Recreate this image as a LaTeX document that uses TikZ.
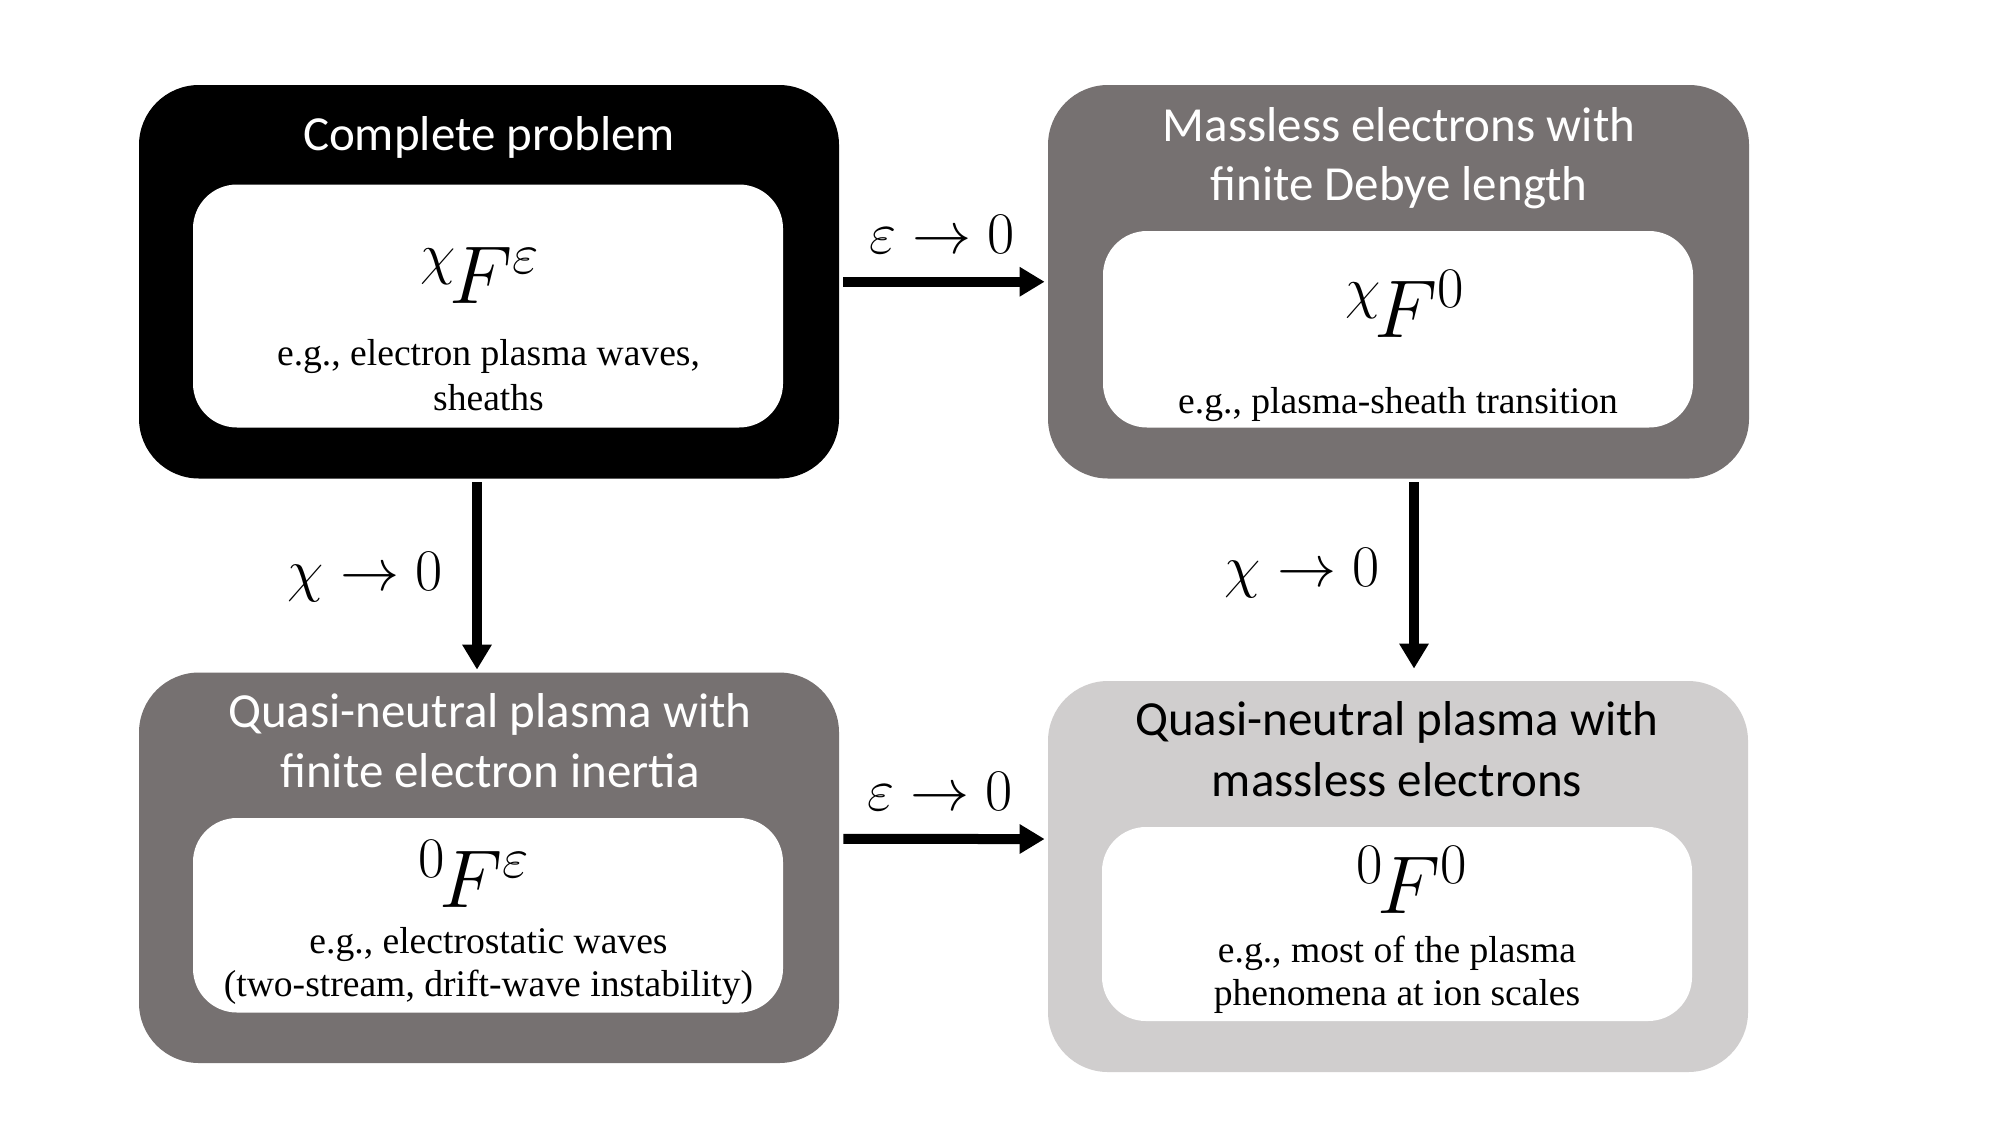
\RequirePackage{fix-cm}
\documentclass[tikz,border=0pt]{standalone}
\usepackage[no-math]{fontspec}
\newfontfamily\titlefont{Carlito}
\newfontfamily\serifbody{Liberation Serif}
\usetikzlibrary{arrows.meta}
\definecolor{darkbox}{HTML}{767171}
\definecolor{lightbox}{HTML}{D0CECE}
\begin{document}
\begin{tikzpicture}[x=0.5pt,y=-0.5pt,
  outerbox/.style={rounded corners=30pt, minimum width=350pt, inner sep=0pt, draw=none},
  innerbox/.style={rounded corners=22pt, fill=white, minimum width=295pt, inner sep=0pt, draw=none},
  title/.style={font=\titlefont\fontsize{24.5}{29}\selectfont, anchor=base, inner sep=0pt},
  desc/.style={font=\serifbody\fontsize{18.8}{22}\selectfont, anchor=base, inner sep=0pt},
  formula/.style={font=\fontsize{41}{48}\selectfont, anchor=base, inner sep=0pt},
  limlabel/.style={font=\fontsize{29.5}{35}\selectfont, anchor=base, inner sep=0pt},
  arr/.style={line width=5pt, -{Triangle[length=12.5pt,width=14pt]}}]
\useasboundingbox (0,0) rectangle (2000,1125);
\fill[white] (0,0) rectangle (2000,1125);
% outer boxes
\node[outerbox, fill=black, minimum height=196.75pt] (b1) at (489,281.75) {};
\node[outerbox, fill=darkbox, minimum width=350.5pt, minimum height=196.75pt] (b2) at (1398.5,281.75) {};
\node[outerbox, fill=darkbox, minimum height=195.25pt] (b3) at (489,867.75) {};
\node[outerbox, fill=lightbox, minimum height=195.5pt] (b4) at (1398,876.5) {};
% inner boxes
\node[innerbox, minimum height=121.5pt] (w1) at (488,306) {};
\node[innerbox, minimum height=98.25pt] (w2) at (1398,329.25) {};
\node[innerbox, minimum height=97.25pt] (w3) at (488,915.25) {};
\node[innerbox, minimum height=97pt] (w4) at (1397,924) {};
% titles
\node[title, text=white] (t1) at (489,150) {Complete problem};
\node[title, text=white] (t2a) at (1399,141) {Massless electrons with};
\node[title, text=white] (t2b) at (1399,200) {finite Debye length};
\node[title, text=white] (t3a) at (490,727) {Quasi-neutral plasma with};
\node[title, text=white] (t3b) at (490,787) {finite electron inertia};
\node[title, text=black] (t4a) at (1397,735.5) {Quasi-neutral plasma with};
\node[title, text=black] (t4b) at (1397,796) {massless electrons};
% formulas
\node[formula] (f1) at (480,303) {${}^{\chi}\mkern-1.5mu F^{\varepsilon}$};
\node[formula] (f2) at (1405,337) {${}^{\chi}\mkern-1.5mu F^{0}$};
\node[formula] (f3) at (474,907) {${}^{0}\mkern-1.5mu F^{\varepsilon}$};
\node[formula] (f4) at (1412,913) {${}^{0}\mkern-1.5mu F^{0}$};
% descriptions
\node[desc] (d1a) at (488.5,365) {e.g., electron plasma waves,};
\node[desc] (d1b) at (488.5,410) {sheaths};
\node[desc] (d2) at (1398,413) {e.g., plasma-sheath transition};
\node[desc] (d3a) at (488.5,953) {e.g., electrostatic waves};
\node[desc] (d3b) at (488.5,996) {(two-stream, drift-wave instability)};
\node[desc] (d4a) at (1397,962) {e.g., most of the plasma};
\node[desc] (d4b) at (1397,1005) {phenomena at ion scales};
% connectors
\draw[arr] ([xshift=2pt]b1.east) -- ([xshift=-1.5pt]b2.west);
\draw[arr] ([xshift=2pt,yshift=14.4pt]b3.east) -- ([xshift=-1.5pt,yshift=18.75pt]b4.west);
\draw[arr] ([xshift=-6pt,yshift=-1.75pt]b1.south) -- ([xshift=-6pt,yshift=1.25pt]b3.north);
\draw[arr] ([xshift=7.75pt,yshift=-1.75pt]b2.south) -- ([xshift=8pt,yshift=6pt]b4.north);
% labels
\node[limlabel] (l1) at (942,253) {$\varepsilon \to 0$};
\node[limlabel] (l2) at (940,810) {$\varepsilon \to 0$};
\node[limlabel] (l3) at (365,590) {$\chi \to 0$};
\node[limlabel] (l4) at (1302,586) {$\chi \to 0$};
\end{tikzpicture}
\end{document}
